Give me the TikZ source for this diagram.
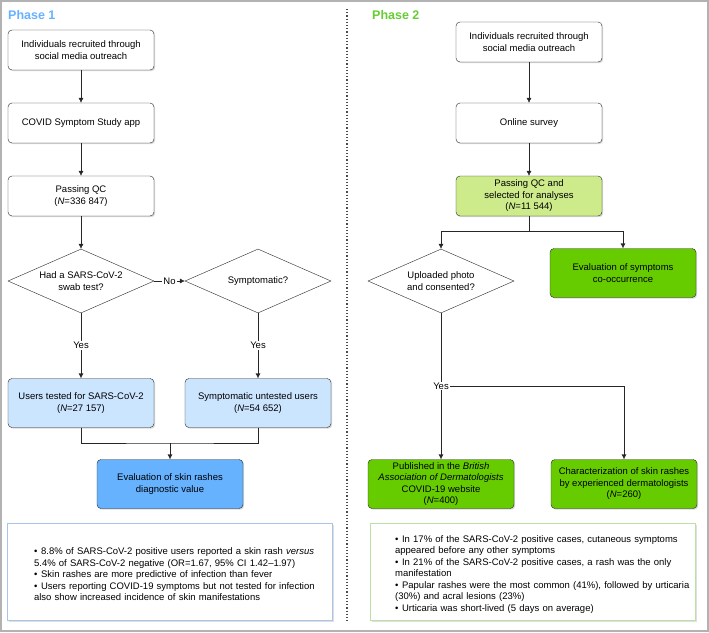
\documentclass[tikz,border=0pt]{standalone}
\usepackage{fontspec}
\setmainfont{Liberation Sans}
\usetikzlibrary{shapes.geometric,arrows.meta,shadows}
\definecolor{phaseblue}{HTML}{66B2FF}
\definecolor{phasegreen}{HTML}{66CC33}
\definecolor{lightblue}{HTML}{CCE5FF}
\definecolor{midblue}{HTML}{66B2FF}
\definecolor{lightgreen}{HTML}{CDEB8B}
\definecolor{midgreen}{HTML}{66CC00}
\definecolor{noteblue}{HTML}{A9C4EB}
\definecolor{notegreen}{HTML}{B9E0A5}
\newcommand{\bul}[1]{\par\hangindent=7pt\hangafter=1\noindent\makebox[7pt][l]{\textbullet}#1}
\tikzset{
  txt/.style={font=\fontsize{9.5}{11.5}\selectfont},
  box/.style={txt, draw=black!85, fill=white, rounded corners=4pt, align=center,
    minimum width=146pt, minimum height=40pt, inner xsep=2pt, inner ysep=1pt,
    drop shadow={shadow xshift=1.2pt, shadow yshift=-1.2pt, opacity=0.3}},
  tall/.style={box, minimum height=49pt},
  decision/.style={txt, diamond, draw=black!85, fill=white, align=center, aspect=2.3,
    minimum width=146pt, minimum height=64pt, inner sep=0pt},
  notes/.style={draw=#1, fill=white, line width=1.2pt, minimum width=325pt, minimum height=97pt,
    drop shadow={shadow xshift=1.2pt, shadow yshift=-1.2pt, opacity=0.25}},
  flow/.style={draw=black!85, -{Latex[length=5pt,width=5pt]}},
  lab/.style={txt, fill=white, inner sep=1pt},
  phase/.style={anchor=base west, inner sep=0pt, font=\fontsize{12.5}{14}\selectfont\bfseries}
}
\begin{document}
\begin{tikzpicture}[x=1pt, y=-1pt]
  \useasboundingbox (0, 0) rectangle (709, 632);
  \draw[gray!60, line width=2pt] (1, 1) rectangle (708, 631);
  \draw[black!70, line width=1.2pt, dash pattern=on 1.2pt off 2pt] (347, 9) -- (347, 622);

  \node[phase, phaseblue] (phaseA) at (8, 19) {Phase 1};
  \node[box] (recruitA) at (81, 50) {Individuals recruited through\\social media outreach};
  \node[box] (appA) at (81, 123) {COVID Symptom Study app};
  \node[box] (qcA) at (81, 196) {Passing QC\\(\textit{N}=336 847)};
  \node[decision] (swab) at (81, 281) {Had a SARS-CoV-2\\swab test?};
  \node[decision] (symp) at (258, 281) {Symptomatic?};
  \node[tall, fill=lightblue] (tested) at (81, 403) {Users tested for SARS-CoV-2\\(\textit{N}=27 157)};
  \node[tall, fill=lightblue] (untested) at (258, 403) {Symptomatic untested users\\(\textit{N}=54 652)};
  \node[tall, fill=midblue] (evalA) at (170, 484) {Evaluation of skin rashes\\diagnostic value};
  \node[notes=noteblue] (summaryA) at (170, 572) {};
  \node[txt, anchor=west, text width=300pt, inner sep=0pt] (notesA) at ([xshift=27pt]summaryA.west) {%
    \bul{8.8\% of SARS-CoV-2 positive users reported a skin rash \textit{versus}\\5.4\% of SARS-CoV-2 negative (OR=1.67, 95\% CI 1.42–1.97)}
    \bul{Skin rashes are more predictive of infection than fever}
    \bul{Users reporting COVID-19 symptoms but not tested for infection\\also show increased incidence of skin manifestations}};

  \draw[flow] (recruitA) -- (appA);
  \draw[flow] (appA) -- (qcA);
  \draw[flow] (qcA) -- (swab);
  \draw[flow] (swab) -- node[lab] {No} (symp);
  \draw[flow] (swab) -- node[lab] {Yes} (tested);
  \draw[flow] (symp) -- node[lab] {Yes} (untested);
  \coordinate (joinA) at (170, 443);
  \draw[black!85] (tested.south) |- (joinA) -| (untested.south);
  \draw[flow] (joinA) -- (evalA);

  \node[phase, phasegreen] (phaseB) at (372, 19) {Phase 2};
  \node[box] (recruitB) at (529, 42) {Individuals recruited through\\social media outreach};
  \node[box] (survey) at (529, 123) {Online survey};
  \node[box, fill=lightgreen] (qcB) at (529, 196) {Passing QC and\\selected for analyses\\(\textit{N}=11 544)};
  \node[decision] (photo) at (441, 281) {Uploaded photo\\and consented?};
  \node[tall, fill=midgreen] (cooc) at (623, 273) {Evaluation of symptoms\\co-occurrence};
  \node[tall, fill=midgreen] (badweb) at (441, 484) {Published in the \textit{British}\\\textit{Association of Dermatologists}\\COVID-19 website\\(\textit{N}=400)};
  \node[tall, fill=midgreen] (derm) at (624, 484) {Characterization of skin rashes\\by experienced dermatologists\\(\textit{N}=260)};
  \node[notes=notegreen] (summaryB) at (533, 572) {};
  \node[txt, anchor=west, text width=310pt, inner sep=0pt] (notesB) at ([xshift=25pt]summaryB.west) {%
    \bul{In 17\% of the SARS-CoV-2 positive cases, cutaneous symptoms\\appeared before any other symptoms}
    \bul{In 21\% of the SARS-CoV-2 positive cases, a rash was the only\\manifestation}
    \bul{Papular rashes were the most common (41\%), followed by urticaria\\(30\%) and acral lesions (23\%)}
    \bul{Urticaria was short-lived (5 days on average)}};

  \draw[flow] (recruitB) -- (survey);
  \draw[flow] (survey) -- (qcB);
  \coordinate (splitB) at (529, 231);
  \draw[black!85] (qcB) -- (splitB);
  \draw[flow] (splitB) -| (photo.north);
  \draw[flow] (splitB) -| (cooc.north);
  \coordinate (yesB) at (441, 386);
  \draw[flow] (photo) -- (badweb);
  \draw[flow] (yesB) -| (derm.north);
  \node[lab] (yesLab) at (yesB) {Yes};
\end{tikzpicture}
\end{document}
